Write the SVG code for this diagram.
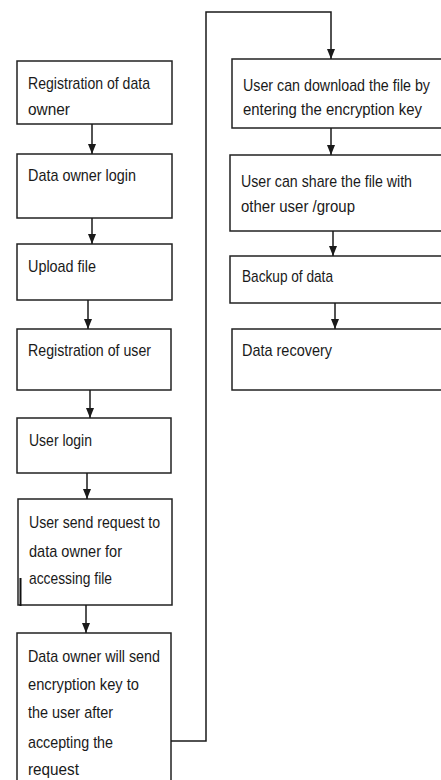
<svg xmlns="http://www.w3.org/2000/svg" width="441" height="780" viewBox="0 0 441 780">
  <style>
    .box { fill: #ffffff; stroke: #222222; stroke-width: 1.5; }
    .lbl { font-family: "Liberation Sans", Arial, sans-serif; font-size: 17px; fill: #1a1a1a; }
    .conn { fill: none; stroke: #1a1a1a; stroke-width: 1.5; }
  </style>
  <defs>
    <marker id="arrow" markerUnits="userSpaceOnUse" markerWidth="10" markerHeight="8" refX="10" refY="4" orient="auto">
      <path d="M0,0 L10,4 L0,8 z" fill="#1a1a1a"/>
    </marker>
  </defs>
  <rect width="441" height="780" fill="#ffffff"/>

  <!-- left column -->
  <g id="registration-owner">
    <rect class="box" x="17" y="61" width="155" height="63"/>
    <text class="lbl" x="28" y="89" textLength="122" lengthAdjust="spacingAndGlyphs">Registration of data</text>
    <text class="lbl" x="28" y="115" textLength="42" lengthAdjust="spacingAndGlyphs">owner</text>
  </g>
  <g id="owner-login">
    <rect class="box" x="17" y="154" width="155" height="64"/>
    <text class="lbl" x="28" y="181" textLength="108" lengthAdjust="spacingAndGlyphs">Data owner login</text>
  </g>
  <g id="upload-file">
    <rect class="box" x="17" y="244" width="155" height="56"/>
    <text class="lbl" x="28" y="272" textLength="68" lengthAdjust="spacingAndGlyphs">Upload file</text>
  </g>
  <g id="registration-user">
    <rect class="box" x="17" y="329" width="154" height="61"/>
    <text class="lbl" x="28" y="356" textLength="123" lengthAdjust="spacingAndGlyphs">Registration of user</text>
  </g>
  <g id="user-login">
    <rect class="box" x="17" y="418" width="154" height="55"/>
    <text class="lbl" x="29" y="446" textLength="63" lengthAdjust="spacingAndGlyphs">User login</text>
  </g>
  <g id="send-request">
    <rect class="box" x="18" y="499" width="154" height="106"/>
    <text class="lbl" x="29" y="528" textLength="131" lengthAdjust="spacingAndGlyphs">User send request to</text>
    <text class="lbl" x="29" y="557" textLength="93" lengthAdjust="spacingAndGlyphs">data owner for</text>
    <text class="lbl" x="29" y="584" textLength="83" lengthAdjust="spacingAndGlyphs">accessing file</text>
    <line x1="20.5" y1="578" x2="20.5" y2="606" stroke="#111111" stroke-width="2"/>
  </g>
  <g id="send-key">
    <rect class="box" x="17" y="633" width="154" height="152"/>
    <text class="lbl" x="28" y="662" textLength="132" lengthAdjust="spacingAndGlyphs">Data owner will send</text>
    <text class="lbl" x="28" y="690" textLength="111" lengthAdjust="spacingAndGlyphs">encryption key to</text>
    <text class="lbl" x="28" y="718" textLength="85" lengthAdjust="spacingAndGlyphs">the user after</text>
    <text class="lbl" x="28" y="748" textLength="85" lengthAdjust="spacingAndGlyphs">accepting the</text>
    <text class="lbl" x="28" y="775" textLength="51" lengthAdjust="spacingAndGlyphs">request</text>
  </g>

  <!-- right column -->
  <g id="download">
    <rect class="box" x="232" y="59" width="213" height="69"/>
    <text class="lbl" x="243" y="91" textLength="187" lengthAdjust="spacingAndGlyphs">User can download the file by</text>
    <text class="lbl" x="243" y="115" textLength="179" lengthAdjust="spacingAndGlyphs">entering the encryption key</text>
  </g>
  <g id="share">
    <rect class="box" x="230" y="155" width="215" height="76"/>
    <text class="lbl" x="241" y="187" textLength="171" lengthAdjust="spacingAndGlyphs">User can share the file with</text>
    <text class="lbl" x="241" y="212" textLength="114" lengthAdjust="spacingAndGlyphs">other user /group</text>
  </g>
  <g id="backup">
    <rect class="box" x="230" y="256" width="215" height="47"/>
    <text class="lbl" x="242" y="282" textLength="91" lengthAdjust="spacingAndGlyphs">Backup of data</text>
  </g>
  <g id="recovery">
    <rect class="box" x="232" y="329" width="213" height="61"/>
    <text class="lbl" x="242" y="356" textLength="90" lengthAdjust="spacingAndGlyphs">Data recovery</text>
  </g>

  <!-- connectors -->
  <g id="connectors">
    <line class="conn" x1="92" y1="124" x2="92" y2="154" marker-end="url(#arrow)"/>
    <line class="conn" x1="92" y1="218" x2="92" y2="244" marker-end="url(#arrow)"/>
    <line class="conn" x1="88" y1="300" x2="88" y2="329" marker-end="url(#arrow)"/>
    <line class="conn" x1="90" y1="390" x2="90" y2="418" marker-end="url(#arrow)"/>
    <line class="conn" x1="87" y1="473" x2="87" y2="499" marker-end="url(#arrow)"/>
    <line class="conn" x1="86" y1="605" x2="86" y2="633" marker-end="url(#arrow)"/>
    <path class="conn" d="M171,741 H206 V12 H331 V59" marker-end="url(#arrow)"/>
    <line class="conn" x1="331" y1="128" x2="331" y2="155" marker-end="url(#arrow)"/>
    <line class="conn" x1="333" y1="231" x2="333" y2="256" marker-end="url(#arrow)"/>
    <line class="conn" x1="335" y1="303" x2="335" y2="329" marker-end="url(#arrow)"/>
  </g>
</svg>
